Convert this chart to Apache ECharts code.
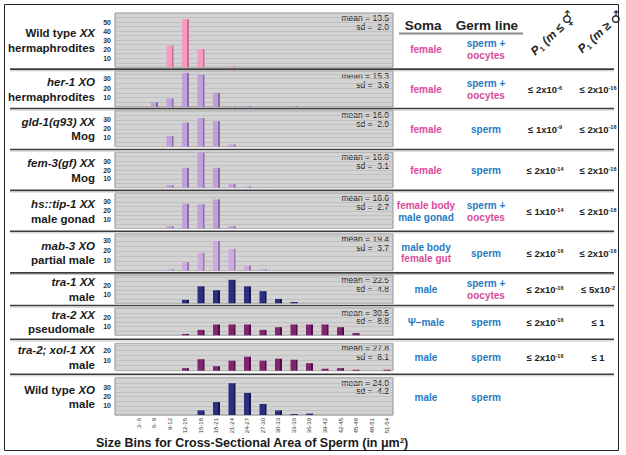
<!DOCTYPE html>
<html><head><meta charset="utf-8">
<script src="https://cdn.jsdelivr.net/npm/echarts@6/dist/echarts.min.js"></script>
<style>html,body{margin:0;padding:0;background:#fff}#c{width:626px;height:455px}</style>
</head><body><div id="c"></div>
<script>
// ---------- data ----------
const bins = ['3- 6','6- 9','9-12','12-15','15-18','18-21','21-24','24-27','27-30','30-33','33-36','36-39','39-42','42-45','45-48','48-51','51-54'];
const wildTypeXX = [0,0,24,53,20,0,1,0,0,0,0,0,0,0,0,0,0];
const her1XO     = [0,5,9,36,34,15,1,1,0,0,1,0,0,0,0,0,0];
const gld1XX     = [0,0,12,27,32,28.5,2.5,0,0,0,0,0,0,0,0,0,0];
const fem3XX     = [0,0,3,22.5,39.5,22.5,4,1.2,0.4,0,0,0,0,0,0,0,0];
const tip1XX     = [0,0,2.8,27.9,27.2,32.8,2.8,0,0,0,0,0,0,0,0,0,0];
const mab3XO     = [0,0,1.5,8.5,18,30,22,5,1.5,0,0,0,0,0,0,0,0];
const tra1XX     = [0,0,0,4,19.5,15,27,19.5,14,5,1.5,0,0,0,0,0,0];
const tra2XX     = [0,0,0,1.5,6,12,12,12,6,9,12,12,12,9,2.5,0,0];
const tra2xol1XX = [0,0,0,2.5,11.5,4.5,10,14,10,12,11,7.5,2,2.5,1,0,1];
const wildTypeXO = [0,0,0,0,5,14,34.5,24,12,5,1,1.5,0,0,0,0,0];
const seriesValues = [wildTypeXX, her1XO, gld1XX, fem3XX, tip1XX, mab3XO, tra1XX, tra2XX, tra2xol1XX, wildTypeXO];

const means = ['13.5','15.3','16.0','16.8','16.6','19.4','22.5','30.5','27.8','24.0'];
const sds   = ['2.0','3.6','2.9','3.1','2.7','3.7','4.8','8.8','8.1','4.2'];

const strainLine1 = ['Wild type {i|XX}','{i|her-1 XO}','{i|gld-1(q93) XX}','{i|fem-3(gf) XX}','{i|hs::tip-1 XX}','{i|mab-3 XO}','{i|tra-1 XX}','{i|tra-2 XX}','{i|tra-2; xol-1 XX}','Wild type {i|XO}'];
const strainLine2 = ['hermaphrodites','hermaphrodites','Mog','Mog','male gonad','partial male','male','pseudomale','male','male'];

const soma = [['female'],['female'],['female'],['female'],['female body','male gonad'],['male body','female gut'],['male'],['Ψ–male'],['male'],['male']];
const germLine = [['sperm +','oocytes'],['sperm +','oocytes'],['sperm'],['sperm'],['sperm +','oocytes'],['sperm'],['sperm +','oocytes'],['sperm'],['sperm'],['sperm']];
const p1Mant = ['','2','1','2','1','2','2','2','2',''];
const p1Exp  = ['','-6','-9','-14','-14','-16','-16','-16','-16',''];
const p2Mant = ['','2','2','2','2','2','5','1','1',''];
const p2Exp  = ['','-16','-16','-16','-16','-16','-2','','',''];
const yLabelMax = [50,30,30,30,30,30,20,20,20,30];

// ---------- layout / style ----------
const tops    = [13, 71, 110, 152.3, 193, 234, 275, 307.7, 343.3, 377.7];
const bottoms = [67.3, 107, 146.7, 187.7, 228.5, 270.7, 303.3, 335.3, 370.7, 415];
const yMax    = [60, 38, 41, 40, 40, 37, 32.5, 30.7, 27.4, 40.5];
const barCols = [
  ['#f59bc2','#c96d92'],['#bfa0d8','#8d6aa8'],['#bfa0d8','#8d6aa8'],['#bfa0d8','#8d6aa8'],['#bfa0d8','#8d6aa8'],
  ['#cdaae0','#9a78ad'],['#2c2f80','#15174a'],['#80246f','#4e0f44'],['#80246f','#4e0f44'],['#2c2f80','#15174a']];
const FONT = '"Liberation Sans", Arial, Helvetica, sans-serif';
const PINK = '#d94a9c', BLUE = '#1f7bc4';
const GL = 115, GW = 278;

const grid = [], xAxis = [], yAxis = [], series = [], graphic = [];
for (let i = 0; i < 10; i++) {
  grid.push({left: GL, width: GW, top: tops[i], height: bottoms[i] - tops[i], show: true,
    backgroundColor: '#d3d3d3', borderColor: '#8e8e8e', borderWidth: 1});
  const last = i === 9;
  xAxis.push({type: 'value', gridIndex: i, min: -1.548, max: 16.387,
    axisLine: {show: false}, axisTick: {show: false}, splitLine: {show: false},
    axisLabel: last ? {show: true, customValues: bins.map((b, j) => j), formatter: v => bins[Math.round(v)] || '',
      rotate: 90, fontSize: 6, color: '#333', margin: 3, fontFamily: FONT} : {show: false}});
  const lm = yLabelMax[i];
  yAxis.push({type: 'value', gridIndex: i, min: 0, max: yMax[i], interval: 5,
    axisLine: {show: false}, axisTick: {show: false},
    splitLine: {show: true, lineStyle: {color: '#bcbcbc', width: 0.8}},
    axisLabel: {fontSize: 7, fontWeight: 'bold', color: '#333', margin: 4, fontFamily: FONT,
      formatter: v => (v > 0 && v % 10 === 0 && v <= lm) ? String(v) : ''}});
  const c = barCols[i];
  series.push({type: 'bar', xAxisIndex: i, yAxisIndex: i, barWidth: 7, silent: true,
    data: seriesValues[i].map((v, j) => [j, v]).filter(d => d[1] > 0),
    itemStyle: {color: {type: 'linear', x: 0, y: 0, x2: 1, y2: 0,
      colorStops: [{offset: 0, color: c[0]}, {offset: 0.72, color: c[0]}, {offset: 0.72, color: c[1]}, {offset: 1, color: c[1]}]}}});

  const mid = (tops[i] + bottoms[i]) / 2;
  // mean / sd
  graphic.push({type: 'text', x: 389, y: tops[i] + 5, silent: true,
    style: {text: 'mean = ' + means[i], align: 'right', verticalAlign: 'middle', fontSize: 8.5, fontFamily: FONT, fill: '#222'}});
  graphic.push({type: 'text', x: 389, y: tops[i] + 13.5, silent: true,
    style: {text: 'sd =  ' + sds[i], align: 'right', verticalAlign: 'middle', fontSize: 8.5, fontFamily: FONT, fill: '#222'}});
  // strain label
  graphic.push({type: 'text', x: 95, y: mid + 0.5, silent: true,
    style: {text: strainLine1[i] + '\n' + strainLine2[i], align: 'right', verticalAlign: 'middle',
      fontSize: 11.5, fontWeight: 'bold', fontFamily: FONT, fill: '#1a1a1a', lineHeight: 14.5,
      rich: {i: {fontStyle: 'italic', fontWeight: 'bold', fontSize: 11.5, fontFamily: FONT, fill: '#1a1a1a', lineHeight: 14.5}}}});
  // right columns
  const ty = i === 0 ? 49 : mid + 0.8;
  const somaCol = s => s.indexOf('female') === 0 ? PINK : BLUE;
  soma[i].forEach((s, k) => {
    const n = soma[i].length;
    graphic.push({type: 'text', x: 426, y: ty + (k - (n - 1) / 2) * 11.5, silent: true,
      style: {text: s, align: 'center', verticalAlign: 'middle', fontSize: 10, fontWeight: 'bold', fontFamily: FONT, fill: somaCol(s)}});
  });
  germLine[i].forEach((s, k) => {
    const n = germLine[i].length;
    graphic.push({type: 'text', x: 486, y: ty + (k - (n - 1) / 2) * 12, silent: true,
      style: {text: s, align: 'center', verticalAlign: 'middle', fontSize: 10, fontWeight: 'bold', fontFamily: FONT,
        fill: s.indexOf('oocytes') === 0 ? PINK : BLUE}});
  });
  const pText = (m, e) => m === '' ? '' : (e === '' ? '≤ ' + m : '≤ ' + m + 'x10{s|' + e + '}');
  [[p1Mant[i], p1Exp[i], 545], [p2Mant[i], p2Exp[i], 598]].forEach(([m, e, x]) => {
    const t = pText(m, e);
    if (!t) return;
    graphic.push({type: 'text', x: x, y: ty, silent: true,
      style: {text: t, align: 'center', verticalAlign: 'middle', fontSize: 9.5, fontWeight: 'bold', fontFamily: FONT, fill: '#222',
        rich: {s: {fontSize: 5.5, fontWeight: 'bold', fontFamily: FONT, fill: '#222', verticalAlign: 'top'}}}});
  });
  // separator below
  if (i < 9) {
    const sy = (bottoms[i] + tops[i + 1]) / 2;
    graphic.push({type: 'line', silent: true, shape: {x1: 10, y1: sy, x2: 614, y2: sy}, style: {stroke: '#3c3c3c', lineWidth: 1.6}});
    graphic.push({type: 'line', silent: true, shape: {x1: 10, y1: sy + 1.6, x2: 614, y2: sy + 1.6}, style: {stroke: '#b5b5b5', lineWidth: 0.8}});
  }
}
// headers
graphic.push({type: 'text', x: 423, y: 25, silent: true, style: {text: 'Soma', align: 'center', verticalAlign: 'middle', fontSize: 13.5, fontWeight: 'bold', fontFamily: FONT, fill: '#222'}});
graphic.push({type: 'text', x: 487, y: 25, silent: true, style: {text: 'Germ line', align: 'center', verticalAlign: 'middle', fontSize: 13.5, fontWeight: 'bold', fontFamily: FONT, fill: '#222'}});
graphic.push({type: 'line', silent: true, shape: {x1: 399, y1: 33.5, x2: 523, y2: 33.5}, style: {stroke: '#8a8a8a', lineWidth: 2}});
const pHead = [['{p|P}{b|1}{p| (m ≤ }{g|⚥}', 553, 34], ['{p|P}{b|1}{p| (m ≥ }{g|♂}', 600, 32]];
pHead.forEach(([t, x, y]) => {
  graphic.push({type: 'text', x: x, y: y, rotation: Math.PI / 4.2, silent: true,
    style: {text: t, align: 'center', verticalAlign: 'middle', fontSize: 12, fontFamily: FONT, fill: '#222',
      rich: {p: {fontSize: 12, fontStyle: 'italic', fontWeight: 'bold', fontFamily: FONT, fill: '#222'},
             b: {fontSize: 7, fontWeight: 'bold', fontFamily: FONT, fill: '#222', verticalAlign: 'bottom'},
             g: {fontSize: 14, fontWeight: 'bold', fontFamily: '"DejaVu Sans", sans-serif', fill: '#222'}}}});
});
// x-axis title
graphic.push({type: 'text', x: 252, y: 443, silent: true,
  style: {text: 'Size Bins for Cross-Sectional Area of Sperm (in μm{s|2})', align: 'center', verticalAlign: 'middle',
    fontSize: 12.5, fontWeight: 'bold', fontFamily: FONT, fill: '#1a1a1a',
    rich: {s: {fontSize: 7.5, fontWeight: 'bold', fontFamily: FONT, fill: '#1a1a1a', verticalAlign: 'top'}}}});
// outer frame
graphic.push({type: 'rect', silent: true, shape: {x: 4.5, y: 4.5, width: 614, height: 446}, style: {fill: 'none', stroke: '#222', lineWidth: 1}});

const chart = echarts.init(document.getElementById('c'), null, {renderer: 'svg'});
chart.setOption({animation: false, backgroundColor: '#fff', grid, xAxis, yAxis, series, graphic});
</script></body></html>
